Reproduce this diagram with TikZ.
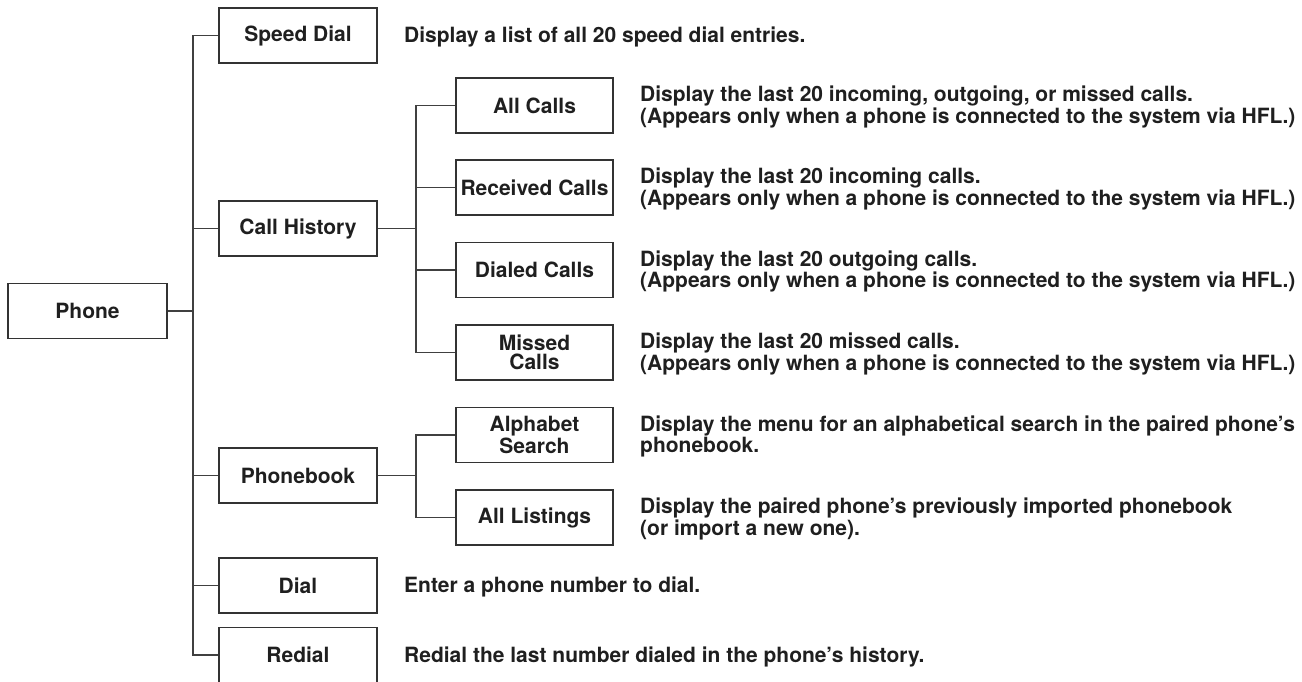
\documentclass[tikz,border=0pt]{standalone}
\usepackage{fontspec}
\setmainfont{TeX Gyre Heros}
\usetikzlibrary{positioning}

\begin{document}
\begin{tikzpicture}[x=1pt, y=-1pt,
  box/.style={draw=black!80, line width=1.2pt, minimum width=158pt,
    minimum height=55pt, align=center, inner sep=1pt,
    font=\fontsize{21}{19.5}\selectfont\bfseries, text=black!88},
  desc/.style={anchor=west, inner sep=0pt, align=left, yshift=-1.5pt,
    font=\fontsize{21}{19.5}\selectfont\bfseries, text=black!88},
  conn/.style={draw=black!75, line width=1.2pt}
]
  \useasboundingbox (0,0) rectangle (1302,681);

  % root and first level
  \node[box, minimum width=159pt] (phone) at (87.5,311) {Phone};
  \node[box] (spd)    at (298,35.5)  {Speed Dial};
  \node[box] (hist)   at (298,228.5) {Call History};
  \node[box] (book)   at (298,475.5) {Phonebook};
  \node[box] (dial)   at (298,585.5) {Dial};
  \node[box] (redial) at (298,655)   {Redial};

  % second level
  \node[box, minimum width=157pt] (allc)   at (534.5,105.5) {All Calls};
  \node[box, minimum width=157pt] (recv)   at (534.5,187.5) {Received Calls};
  \node[box, minimum width=157pt] (dialed) at (534.5,270)   {Dialed Calls};
  \node[box, minimum width=157pt] (missed) at (534.5,352.5) {Missed\\Calls};
  \node[box, minimum width=157pt] (alpha)  at (534.5,435)   {Alphabet\\Search};
  \node[box, minimum width=157pt] (list)   at (534.5,517.5) {All Listings};

  % descriptions
  \node[desc] (dspd)    at (404,35.5)  {Display a list of all 20 speed dial entries.};
  \node[desc] (dallc)   at (640,105.5) {Display the last 20 incoming, outgoing, or missed calls.\\(Appears only when a phone is connected to the system via HFL.)};
  \node[desc] (drecv)   at (640,187.5) {Display the last 20 incoming calls.\\(Appears only when a phone is connected to the system via HFL.)};
  \node[desc] (ddialed) at (640,270)   {Display the last 20 outgoing calls.\\(Appears only when a phone is connected to the system via HFL.)};
  \node[desc] (dmissed) at (640,352.5) {Display the last 20 missed calls.\\(Appears only when a phone is connected to the system via HFL.)};
  \node[desc] (dalpha)  at (640,435)   {Display the menu for an alphabetical search in the paired phone’s\\phonebook.};
  \node[desc] (dlist)   at (640,517.5) {Display the paired phone’s previously imported phonebook\\(or import a new one).};
  \node[desc] (ddial)   at (404,585.5) {Enter a phone number to dial.};
  \node[desc] (dredial) at (404,655)   {Redial the last number dialed in the phone’s history.};

  % trunks
  \coordinate (tphone) at (193,311);
  \coordinate (thist)  at (416,228.5);
  \coordinate (tbook)  at (416,475.5);

  \draw[conn] (phone.east) -- (tphone);
  \foreach \n in {spd,hist,book,dial,redial}
    \draw[conn] (\n.west) -| (tphone);

  \draw[conn] (hist.east) -- (thist);
  \foreach \n in {allc,recv,dialed,missed}
    \draw[conn] (\n.west) -| (thist);

  \draw[conn] (book.east) -- (tbook);
  \foreach \n in {alpha,list}
    \draw[conn] (\n.west) -| (tbook);
\end{tikzpicture}
\end{document}
